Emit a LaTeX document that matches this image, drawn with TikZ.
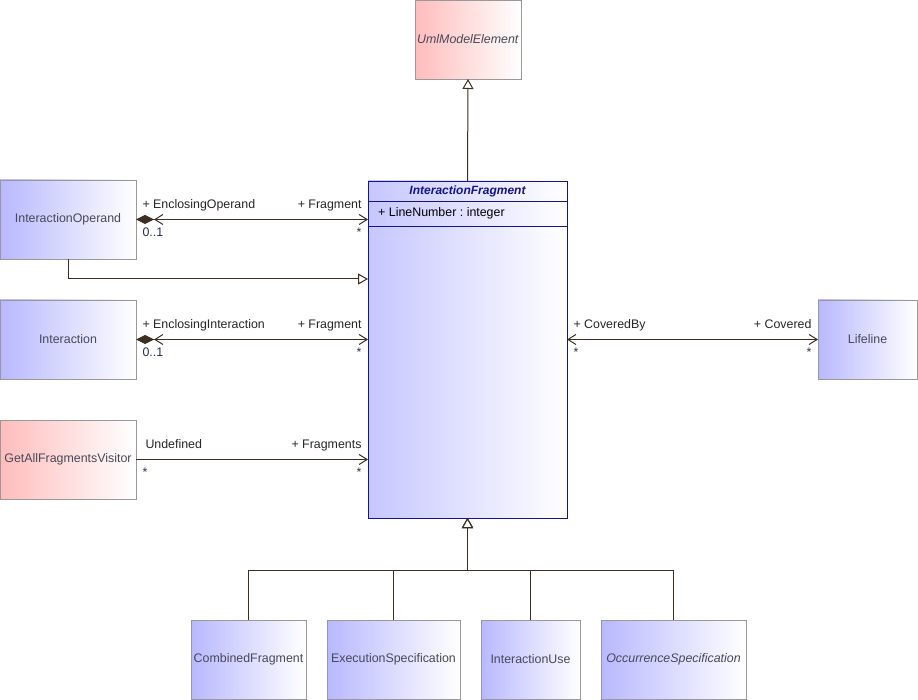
\documentclass[tikz,border=0pt]{standalone}
\usepackage{fontspec}
\setmainfont{Liberation Sans}
\usetikzlibrary{arrows.meta,positioning}
\definecolor{umlblue}{RGB}{184,184,255}
\definecolor{umlred}{RGB}{255,188,188}
\definecolor{umlline}{RGB}{60,46,32}
\definecolor{umltext}{RGB}{72,72,88}
\definecolor{umlnavy}{RGB}{20,20,140}
\definecolor{umlmult}{RGB}{40,48,90}
\frenchspacing

\begin{document}
\begin{tikzpicture}[x=1pt,y=-1pt,font=\fontsize{12.4}{14}\selectfont,
    cls/.style={draw=black!40,left color=umlblue,right color=white,text=umltext,
      minimum width=136,minimum height=79,inner sep=0pt,outer sep=0pt},
    redcls/.style={cls,left color=umlred},
    link/.style={draw=umlline,line width=1pt},
    gen/.style={link,-{Triangle[open,length=10pt,width=11pt,fill=white]}},
    nav/.style={link,{Straight Barb[length=8pt,width=10pt]}-{Straight Barb[length=8pt,width=10pt]}},
    comp/.style={link,{Diamond[length=18pt,width=9pt]Straight Barb[length=8pt,width=10pt]}-{Straight Barb[length=8pt,width=10pt]}},
    rolel/.style={anchor=base west,xshift=6pt,yshift=11pt,inner sep=0pt,text=black!85},
    roler/.style={anchor=base east,xshift=-6pt,yshift=11pt,inner sep=0pt,text=black!85},
    multl/.style={anchor=north west,xshift=6pt,yshift=-8pt,inner sep=0pt,text=umlmult},
    multr/.style={anchor=north east,xshift=-6pt,yshift=-8pt,inner sep=0pt,text=umlmult}]
  \useasboundingbox (0,0) rectangle (918,700);

  \node[redcls,minimum width=106] (element) at (468,39.5) {\textit{UmlModelElement}};

  \node[cls,draw=umlnavy,left color=umlblue!80,minimum width=199,minimum height=337] (fragment) at (467.5,349.5) {};
  \node[anchor=north,minimum height=20,inner sep=0pt,text=umlnavy,font=\fontsize{12}{14}\selectfont\bfseries\itshape] (fragname) at (fragment.north) {InteractionFragment};
  \node[anchor=north west,minimum height=24,inner xsep=10pt,inner ysep=0pt] (fragattr) at (fragname.south -| fragment.west) {+ LineNumber : integer};
  \draw[umlnavy] (fragment.west |- fragname.south) -- (fragment.east |- fragname.south);
  \draw[umlnavy] (fragment.west |- fragattr.south) -- (fragment.east |- fragattr.south);

  \node[cls] (operand) at (68,219.5) {InteractionOperand};
  \node[cls] (interaction) at (68,339.5) {Interaction};
  \node[redcls] (visitor) at (68,459.5) {GetAllFragmentsVisitor};
  \node[cls,minimum width=99] (lifeline) at (867.5,339.5) {Lifeline};

  \node[cls,minimum width=115] (combined) at (248.5,659.5) {CombinedFragment};
  \node[cls,minimum width=133] (execution) at (393.5,659.5) {ExecutionSpecification};
  \node[cls,minimum width=99] (use) at (530.5,659.5) {InteractionUse};
  \node[cls,minimum width=145] (occurrence) at (673.5,659.5) {\textit{OccurrenceSpecification}};

  \draw[gen] (fragment.north) -- (element.south);
  \draw[gen] (operand.south) |- ([yshift=-98pt]fragment.north west);

  \coordinate (fork) at ([yshift=-52pt]fragment.south);
  \foreach \c in {combined,execution,use,occurrence}
    \draw[gen] (\c.north) |- (fork) -- (fragment.south);

  \draw[comp] (operand.east) --
    node[pos=0,rolel] {+ EnclosingOperand} node[pos=0,multl] {0..1}
    node[pos=1,roler] {+ Fragment} node[pos=1,multr] {*}
    (fragment.west |- operand.east);
  \draw[comp] (interaction.east) --
    node[pos=0,rolel] {+ EnclosingInteraction} node[pos=0,multl] {0..1}
    node[pos=1,roler] {+ Fragment} node[pos=1,multr] {*}
    (fragment.west |- interaction.east);
  \draw[link,-{Straight Barb[length=8pt,width=10pt]}] (visitor.east) --
    node[pos=0,rolel,xshift=3pt] {Undefined} node[pos=0,multl] {*}
    node[pos=1,roler] {+ Fragments} node[pos=1,multr] {*}
    (fragment.west |- visitor.east);
  \draw[nav] (fragment.east |- lifeline.west) --
    node[pos=0,rolel] {+ CoveredBy} node[pos=0,multl] {*}
    node[pos=1,roler] {+ Covered} node[pos=1,multr] {*}
    (lifeline.west);
\end{tikzpicture}
\end{document}
